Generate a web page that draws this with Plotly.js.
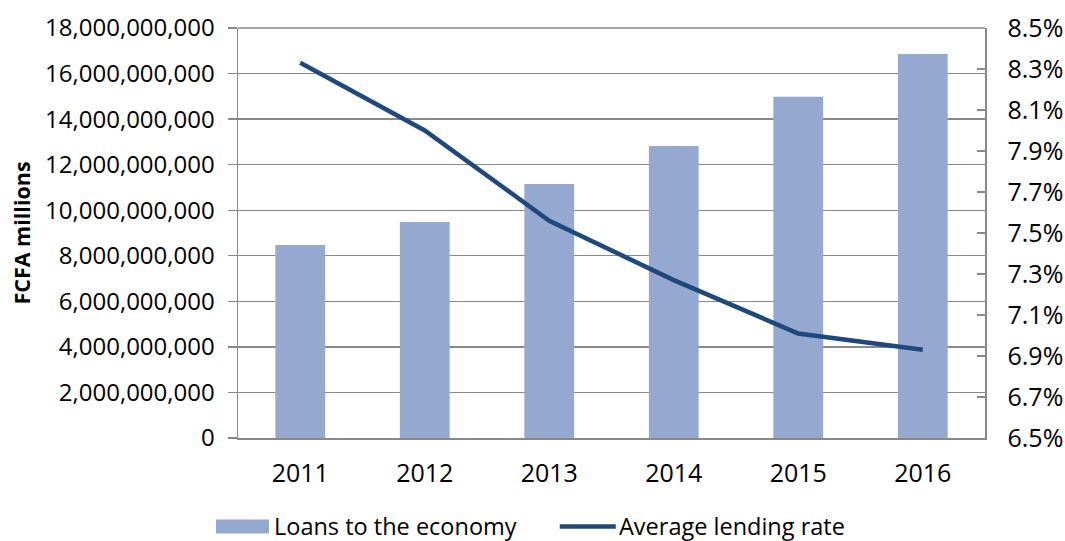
<!DOCTYPE html>
<html>
<head>
<meta charset="utf-8">
<script src="https://cdn.plot.ly/plotly-3.0.1.min.js"></script>
<style>html,body{margin:0;padding:0;background:#fff;}#chart{width:1065px;height:541px;}</style>
</head>
<body>
<div id="chart"></div>
<script>
// Data
var years = ["2011", "2012", "2013", "2014", "2015", "2016"];
var loans = [8470000000, 9480000000, 11150000000, 12820000000, 14980000000, 16860000000];
var lendingRate = [8.33, 8.00, 7.56, 7.27, 7.01, 6.93];
var barName = "Loans to the economy";
var lineName = "Average lending rate";
var yAxisTitle = "FCFA millions";

var barColor = "#95a9d0";
var lineColor = "#1f497d";
var gridColor = "#898989";
var fontFam = "'Open Sans', 'Noto Sans', sans-serif";

var W = 1065, H = 541;
var L = 238, R = 985.5, T = 28, B = 438.5;
function px(x) { return (x - L) / (R - L); }
function py(y) { return (B - y) / (B - T); }

var traces = [
  {
    type: "bar", x: years, y: loans, name: barName,
    marker: {color: barColor, line: {width: 0}},
    width: 0.4, showlegend: false, hoverinfo: "x+y"
  },
  {
    type: "scatter", mode: "lines", x: years, y: lendingRate, name: lineName,
    yaxis: "y2", line: {color: lineColor, width: 4.5}, showlegend: false
  }
];

var legY = 527;
var layout = {
  width: W, height: H,
  margin: {l: L, r: W - R, t: T, b: H - B, pad: 0},
  paper_bgcolor: "#ffffff", plot_bgcolor: "#ffffff",
  font: {family: fontFam, size: 24, color: "#000000"},
  showlegend: false,
  bargap: 0.6,
  xaxis: {
    type: "category", showgrid: false, zeroline: false,
    showline: true, linecolor: gridColor, linewidth: 1.5,
    ticks: "", tickfont: {size: 25}, ticklabelstandoff: 12
  },
  yaxis: {
    range: [0, 18000000000], dtick: 2000000000, tick0: 0,
    tickformat: ",.0f", showgrid: true, gridcolor: gridColor, gridwidth: 1.3,
    zeroline: false, showline: true, linecolor: gridColor, linewidth: 1.5,
    ticks: "outside", ticklen: 9, tickcolor: gridColor, tickwidth: 1.3,
    tickfont: {size: 24}, ticklabelstandoff: 8,
    title: {text: "<b>" + yAxisTitle + "</b>", font: {size: 21.5}, standoff: 8}
  },
  yaxis2: {
    overlaying: "y", side: "right",
    range: [6.5, 8.5], dtick: 0.2, tick0: 6.5,
    tickformat: ".1f", ticksuffix: "%",
    showgrid: false, zeroline: false, showline: true, linecolor: gridColor, linewidth: 1.5,
    ticks: "inside", ticklen: 8, tickcolor: gridColor, tickwidth: 1.3,
    tickfont: {size: 25}, ticklabelstandoff: 16
  },
  shapes: [
    {type: "line", xref: "paper", yref: "paper", x0: 0, x1: 1, y0: 1, y1: 1,
     line: {color: gridColor, width: 1.3}},
    {type: "rect", xref: "paper", yref: "paper", x0: px(216), x1: px(269), y0: py(legY + 7), y1: py(legY - 7),
     fillcolor: barColor, line: {width: 0}},
    {type: "line", xref: "paper", yref: "paper", x0: px(560), x1: px(616), y0: py(legY), y1: py(legY),
     line: {color: lineColor, width: 4.5}}
  ],
  annotations: [
    {xref: "paper", yref: "paper", x: px(272), y: py(legY), xanchor: "left", yanchor: "middle",
     text: barName, showarrow: false, font: {size: 23.5}},
    {xref: "paper", yref: "paper", x: px(617), y: py(legY), xanchor: "left", yanchor: "middle",
     text: lineName, showarrow: false, font: {size: 23.5}}
  ]
};

Plotly.newPlot("chart", traces, layout, {displayModeBar: false, staticPlot: true});
</script>
</body>
</html>
